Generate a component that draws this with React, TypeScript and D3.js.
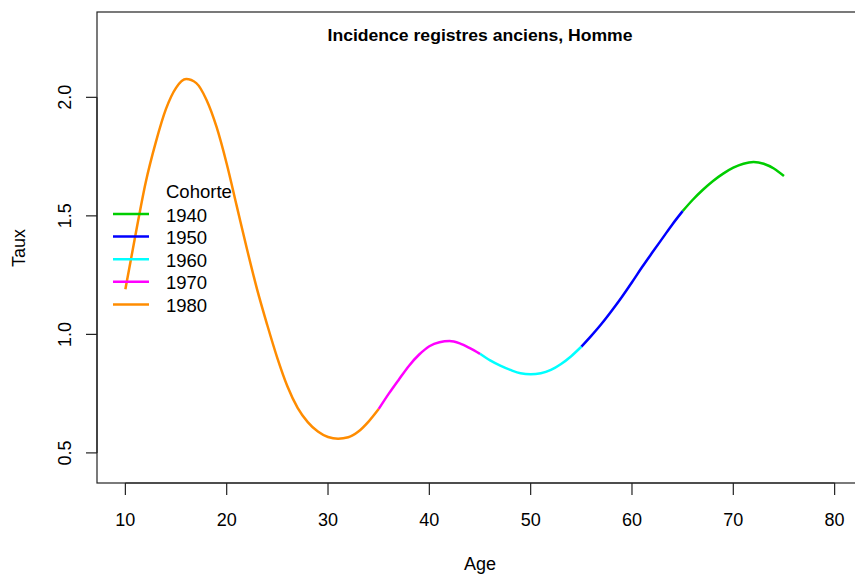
import React from 'react';
import * as d3 from 'd3';

const cohorts = ['1940', '1950', '1960', '1970', '1980'];
const cohortColors = ['#00CD00', '#0000FF', '#00FFFF', '#FF00FF', '#FF8C00'];

const ages1940 = [65, 66, 67, 68, 69, 70, 71, 72, 73, 74, 75];
const taux1940 = [1.52, 1.568, 1.61, 1.647, 1.678, 1.703, 1.72, 1.727, 1.72, 1.70, 1.668];

const ages1950 = [55, 56, 57, 58, 59, 60, 61, 62, 63, 64, 65];
const taux1950 = [0.948, 0.995, 1.045, 1.10, 1.158, 1.22, 1.284, 1.345, 1.405, 1.465, 1.52];

const ages1960 = [45, 46, 47, 48, 49, 50, 51, 52, 53, 54, 55];
const taux1960 = [0.918, 0.89, 0.868, 0.85, 0.836, 0.832, 0.836, 0.85, 0.875, 0.908, 0.948];

const ages1970 = [35, 36, 37, 38, 39, 40, 41, 42, 43, 44, 45];
const taux1970 = [0.685, 0.75, 0.81, 0.868, 0.915, 0.95, 0.967, 0.972, 0.962, 0.942, 0.918];

const ages1980 = [10, 11, 12, 13, 14, 15, 16, 17, 18, 19, 20, 21, 22, 23, 24, 25, 26, 27, 28, 29, 30, 31, 32, 33, 34, 35];
const taux1980 = [1.19, 1.42, 1.64, 1.81, 1.95, 2.04, 2.077, 2.06, 1.99, 1.875, 1.72, 1.54, 1.36, 1.19, 1.04, 0.90, 0.78, 0.69, 0.63, 0.59, 0.567, 0.56, 0.566, 0.59, 0.632, 0.685];

const seriesAges = [ages1940, ages1950, ages1960, ages1970, ages1980];
const seriesTaux = [taux1940, taux1950, taux1960, taux1970, taux1980];

const xTicks = [10, 20, 30, 40, 50, 60, 70, 80];
const yTicks = [0.5, 1.0, 1.5, 2.0];
const yTickLabels = ['0.5', '1.0', '1.5', '2.0'];

const title = 'Incidence registres anciens, Homme';
const xLabel = 'Age';
const yLabel = 'Taux';
const legendTitle = 'Cohorte';

const W = 855;
const H = 574;
const left = 97;
const right = 863;
const top = 12;
const bottom = 483;
const font = 'Liberation Sans, Arial, Helvetica, sans-serif';

export default function App() {
  const x = d3.scaleLinear().domain([7.2, 82.8]).range([left, right]);
  const y = d3.scaleLinear().domain([0.373, 2.36]).range([bottom, top]);
  const line = d3
    .line<[number, number]>()
    .x((d) => x(d[0]))
    .y((d) => y(d[1]))
    .curve(d3.curveMonotoneX);

  const legendRowY = (i: number) => 214 + i * 22.6;

  return (
    <svg
      width={W}
      height={H}
      style={{ position: 'absolute', left: 0, top: 0, background: '#fff' }}
      fontFamily={font}
    >
      <rect x={0} y={0} width={W} height={H} fill="#fff" />
      {seriesAges.map((ages, i) => (
        <path
          key={cohorts[i]}
          d={line(ages.map((a, j) => [a, seriesTaux[i][j]] as [number, number])) || ''}
          fill="none"
          stroke={cohortColors[i]}
          strokeWidth={2.5}
          strokeLinejoin="round"
        />
      ))}
      <rect x={left} y={top} width={right - left} height={bottom - top} fill="none" stroke="#222" strokeWidth={1.2} />
      <line x1={x(xTicks[0])} x2={x(xTicks[xTicks.length - 1])} y1={bottom} y2={bottom} stroke="#222" strokeWidth={1.2} />
      {xTicks.map((t) => (
        <g key={t}>
          <line x1={x(t)} x2={x(t)} y1={bottom} y2={bottom + 12} stroke="#222" strokeWidth={1.2} />
          <text x={x(t)} y={525.5} fontSize={18} textAnchor="middle" fill="#000">
            {t}
          </text>
        </g>
      ))}
      <line x1={left} x2={left} y1={y(yTicks[0])} y2={y(yTicks[yTicks.length - 1])} stroke="#222" strokeWidth={1.2} />
      {yTicks.map((t, i) => (
        <g key={t}>
          <line x1={left - 11} x2={left} y1={y(t)} y2={y(t)} stroke="#222" strokeWidth={1.2} />
          <text
            transform={`translate(71,${y(t)}) rotate(-90)`}
            fontSize={18}
            textAnchor="middle"
            fill="#000"
          >
            {yTickLabels[i]}
          </text>
        </g>
      ))}
      <text x={480} y={41} fontSize={16.5} fontWeight="bold" textAnchor="middle" textLength={305} lengthAdjust="spacingAndGlyphs" fill="#000">
        {title}
      </text>
      <text x={480} y={570} fontSize={18} textAnchor="middle" fill="#000">
        {xLabel}
      </text>
      <text transform={`translate(25,248) rotate(-90)`} fontSize={18} textAnchor="middle" fill="#000">
        {yLabel}
      </text>
      <text x={166} y={198} fontSize={18.5} fill="#000">
        {legendTitle}
      </text>
      {cohorts.map((c, i) => (
        <g key={c}>
          <line x1={113} x2={149} y1={legendRowY(i)} y2={legendRowY(i)} stroke={cohortColors[i]} strokeWidth={2.5} />
          <text x={166} y={legendRowY(i) + 7.5} fontSize={18.5} fill="#000">
            {c}
          </text>
        </g>
      ))}
    </svg>
  );
}
